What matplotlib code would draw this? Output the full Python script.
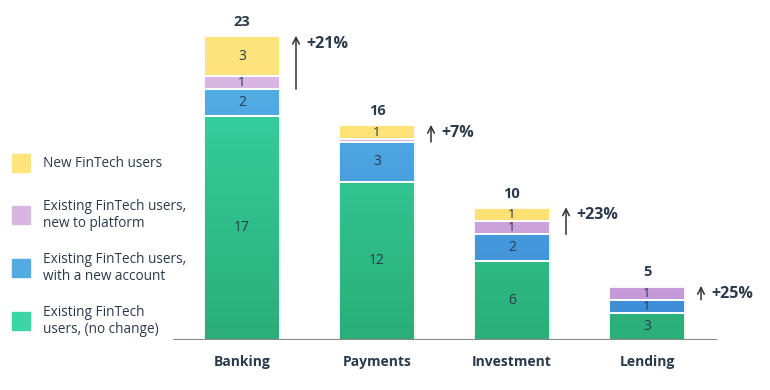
import numpy as np
import matplotlib
matplotlib.use('Agg')
import matplotlib.pyplot as plt
from matplotlib.colors import LinearSegmentedColormap, Normalize
from matplotlib.patches import Rectangle

plt.rcParams['font.family'] = ['Open Sans', 'DejaVu Sans']

categories = ['Banking', 'Payments', 'Investment', 'Lending']
# stacked heights (bottom -> top) as drawn
no_change = [17, 12, 6, 2.05]
new_account = [2, 3, 2, 1]
new_platform = [1, 0.25, 1, 1]
new_users = [3, 1, 1, 0]
# labels shown in each segment
lab_no_change = ['17', '12', '6', '3']
lab_new_account = ['2', '3', '2', '1']
lab_new_platform = ['1', '', '1', '1']
lab_new_users = ['3', '1', '1', '']
totals = ['23', '16', '10', '5']
growth = ['+21%', '+7%', '+23%', '+25%']
series_names = ['New FinTech users', 'Existing FinTech users,\nnew to platform',
                'Existing FinTech users,\nwith a new account', 'Existing FinTech\nusers, (no change)']

DARK = '#2A3A4C'
# (color at top of chart, color at baseline)
grad = {
    'green': ('#36D8A8', '#2BAE78'),
    'blue': ('#56B4E7', '#3C8AD6'),
    'pink': ('#DCBCE3', '#C394D7'),
    'yellow': ('#FEE47C', '#FDDF6E'),
}
legend_cols = ['#FEE47C', '#D8B6E2', '#52ABE3', '#3AD6A6']

fig = plt.figure(figsize=(7.7, 3.9), dpi=100)
ax = fig.add_axes([173 / 770, 50 / 390, 544 / 770, 330 / 390])
ymax = 25
norm = Normalize(0, 23)
w = 0.57
x = np.arange(len(categories))

stack = [('green', no_change, lab_no_change), ('blue', new_account, lab_new_account),
         ('pink', new_platform, lab_new_platform), ('yellow', new_users, lab_new_users)]
bottoms = np.zeros(len(categories))
for key, vals, labs in stack:
    cmap = LinearSegmentedColormap.from_list(key, [grad[key][1], grad[key][0]])
    for i, (v, lb) in enumerate(zip(vals, labs)):
        if v <= 0:
            continue
        b = bottoms[i]
        ys = np.linspace(b + v, b, 50).reshape(-1, 1)
        ax.imshow(cmap(norm(ys)), extent=[x[i] - w / 2, x[i] + w / 2, b, b + v],
                  aspect='auto', interpolation='bilinear', zorder=2)
        ax.add_patch(Rectangle((x[i] - w / 2, b), w, v, fill=False, edgecolor='white', lw=1.3, zorder=3))
        if lb:
            ax.text(x[i], b + v / 2, lb, ha='center', va='center', fontsize=10 if v > 1 else 9.3,
                    color=DARK, zorder=4)
    bottoms = bottoms + np.array(vals)

for i in range(len(categories)):
    top = bottoms[i]
    base = no_change[i] + new_account[i]
    ax.text(x[i], top + 0.55, totals[i], ha='center', va='bottom', fontsize=10.5, fontweight='bold', color=DARK)
    ax.annotate('', xy=(x[i] + 0.4, top + 0.05), xytext=(x[i] + 0.4, base),
                arrowprops=dict(arrowstyle='->', color='#333333', lw=1.1, shrinkA=0, shrinkB=0,
                                mutation_scale=12))
    ax.text(x[i] + 0.48, top - 0.55, growth[i], ha='left', va='center', fontsize=11.5,
            fontweight='bold', color=DARK)

ax.set_xlim(-69 / 135, 544 / 135 - 69 / 135)
ax.set_ylim(0, ymax)
ax.axhline(0, color='#888888', lw=1.5, zorder=5)
for s in ax.spines.values():
    s.set_visible(False)
ax.set_yticks([])
ax.set_xticks(x)
ax.set_xticklabels(categories, fontsize=10, fontweight='bold', color=DARK)
ax.tick_params(axis='x', length=0, pad=11)

ys_leg = [163, 215, 268, 321]
for name, col, yy in zip(series_names, legend_cols, ys_leg):
    fig.patches.append(Rectangle((12 / 770, 1 - (yy + 9) / 390), 18 / 770, 18 / 390,
                                 transform=fig.transFigure, color=col))
    fig.text(43 / 770, 1 - yy / 390, name, ha='left', va='center', fontsize=9.8, color=DARK, linespacing=1.25)

fig.savefig('out.png', dpi=100, facecolor='white')
